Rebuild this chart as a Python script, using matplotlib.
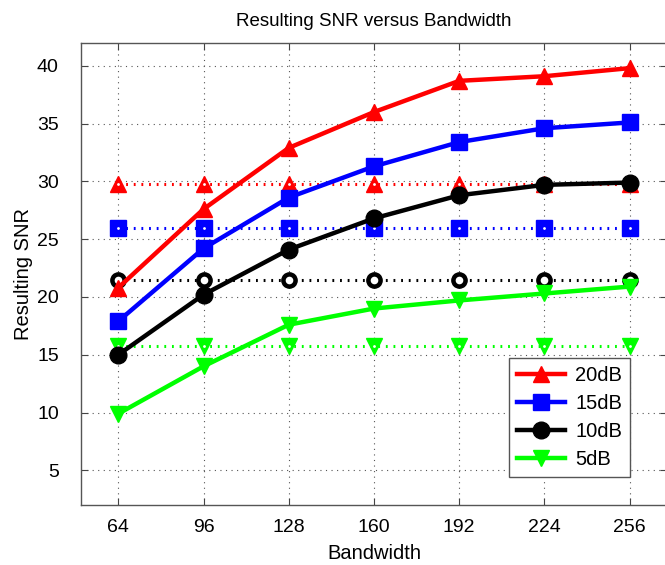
import matplotlib
matplotlib.use('Agg')
import matplotlib.pyplot as plt

plt.rcParams['font.family'] = ['Liberation Sans', 'DejaVu Sans']

bandwidth = [64, 96, 128, 160, 192, 224, 256]

# resulting SNR curves
snr_20 = [20.8, 27.6, 32.9, 36.0, 38.7, 39.1, 39.8]
snr_15 = [17.9, 24.2, 28.6, 31.3, 33.4, 34.6, 35.1]
snr_10 = [15.0, 20.2, 24.1, 26.8, 28.8, 29.7, 29.9]
snr_5 = [9.9, 14.0, 17.6, 19.0, 19.7, 20.3, 20.9]

# reference (input) levels, dotted
ref_20 = 29.8
ref_15 = 26.0
ref_10 = 21.5
ref_5 = 15.8

labels = ['20dB', '15dB', '10dB', '5dB']
colors = ['#ff0000', '#0000ff', '#000000', '#00ff00']
markers = ['^', 's', 'o', 'v']
hole = [2.0, 2.0, 5.5, 2.0]

fig = plt.figure(figsize=(6.65, 5.65), dpi=100)
ax = fig.add_axes([81 / 665, 1 - 505 / 565, 586 / 665, (505 - 42.7) / 565])

curves = [snr_20, snr_15, snr_10, snr_5]
refs = [ref_20, ref_15, ref_10, ref_5]

for ref, c, m, hs in zip(refs, colors, markers, hole):
    flat = [ref] * len(bandwidth)
    ax.plot(bandwidth, flat, color=c, marker=m,
            linestyle=(0, (0.6, 1.9)), linewidth=2.2, dash_capstyle='butt',
            markersize=12 if m != 'o' else 11, markerfacecolor=c,
            markeredgecolor=c, zorder=3)
    ax.plot(bandwidth, flat, linestyle='none', marker='o', markersize=hs,
            markerfacecolor='white', markeredgewidth=0, zorder=3.5)

handles = []
for vals, c, m, lab in zip(curves, colors, markers, labels):
    h, = ax.plot(bandwidth, vals, color=c, marker=m, linewidth=3.2,
                 markersize=12, markerfacecolor=c, markeredgecolor=c,
                 label=lab, zorder=4)
    handles.append(h)

ax.set_xlim(50, 270)
ax.set_ylim(2, 42)
ax.set_xticks(bandwidth)
ax.set_yticks([5, 10, 15, 20, 25, 30, 35, 40])
ax.grid(True, linestyle=(0, (1, 4)), color='#555555', linewidth=0.8)
ax.tick_params(direction='in', top=True, right=True, labelsize=14,
               length=5, color='#444444')
ax.tick_params(axis='y', pad=16)
ax.tick_params(axis='x', pad=10)
for s in ax.spines.values():
    s.set_color('#555555')
    s.set_linewidth(1.0)

ax.set_title('Resulting SNR versus Bandwidth', fontsize=13.5, pad=12)
ax.set_xlabel('Bandwidth', fontsize=14.5, labelpad=6)
ax.set_ylabel('Resulting SNR', fontsize=14.5, labelpad=3)

leg = ax.legend(handles=handles, loc='lower right',
                bbox_to_anchor=((630 - 81) / 586, (505 - 477) / (505 - 42.7)),
                borderaxespad=0, fontsize=14.5, fancybox=False,
                framealpha=1, edgecolor='#555555', handlelength=2.4,
                labelspacing=0.45, borderpad=0.4, handletextpad=0.5)
leg.get_frame().set_linewidth(1.0)

fig.savefig('out.png', dpi=100)
